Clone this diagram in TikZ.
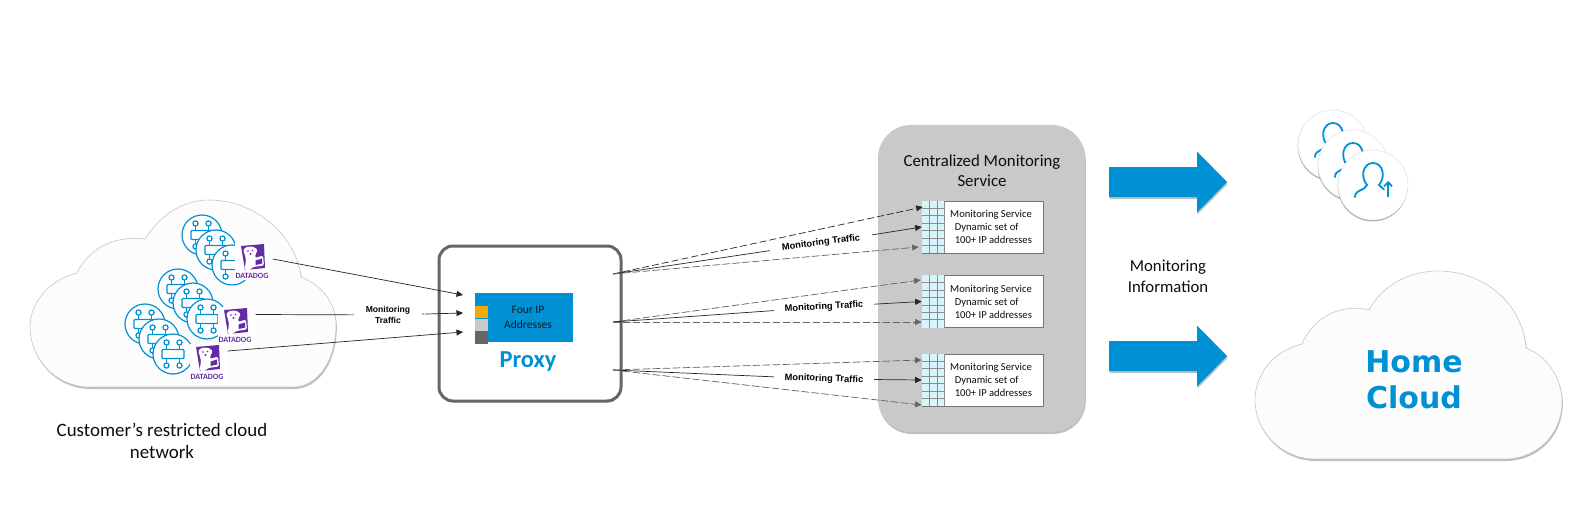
\documentclass[tikz,border=0pt]{standalone}
\usepackage{fontspec}
\setmainfont{Carlito}
\newfontfamily\arialfont{Liberation Sans}
\newfontfamily\dejafont{DejaVu Sans}
\usetikzlibrary{arrows.meta,shadows,calc}
\tikzset{every node/.append style={align=center}}
\definecolor{cloudblue}{RGB}{0, 144, 212}
\definecolor{dogpurple}{RGB}{99, 44, 166}
\definecolor{panelgrey}{RGB}{201, 201, 201}
\definecolor{gridcyan}{RGB}{216, 244, 251}
\definecolor{slategrey}{RGB}{102, 102, 102}
\definecolor{chipamber}{RGB}{242, 170, 0}

\begin{document}
\begin{tikzpicture}[
    x=1pt, y=-1pt,
    softshadow/.style={drop shadow={opacity=.5, shadow xshift=.8pt, shadow yshift=-2pt}},
    cloudbody/.style={fill=white!99!black, draw=black!22, line width=.6pt, softshadow},
    plaintext/.style={font=\fontsize{16.8}{20}\selectfont, text=black!95, inner sep=0pt},
    trafficlabel/.style={font=\arialfont\bfseries\fontsize{8.6}{11.5}\selectfont, inner sep=0pt, minimum height=10pt},
    slopedlabel/.style={trafficlabel, font=\arialfont\bfseries\fontsize{9.3}{11.5}\selectfont},
    proxybox/.style={draw=slategrey, line width=3pt, fill=white, rounded corners=14pt, minimum width=182pt, minimum height=155pt, drop shadow={opacity=.2, shadow xshift=.8pt, shadow yshift=-1.5pt}},
    ipbox/.style={fill=cloudblue, minimum width=98pt, minimum height=49pt, inner sep=0pt},
    ipchip/.style={minimum width=13pt, minimum height=12pt, inner sep=0pt},
    panel/.style={fill=panelgrey, rounded corners=33pt, minimum width=207pt, minimum height=307pt, softshadow},
    svcbox/.style={draw=black!55, line width=.7pt, fill=white, minimum width=121pt, minimum height=52pt, inner sep=0pt},
    svctext/.style={font=\fontsize{10.6}{13}\selectfont, align=left, inner sep=0pt, anchor=west, text=black!95},
    logobox/.style={fill=white, minimum width=38pt, minimum height=37pt, inner sep=0pt},
    dogtext/.style={font=\bfseries\fontsize{8}{8}\selectfont, text=dogpurple, inner sep=0pt},
    solidlink/.style={line width=.7pt, draw=black!85},
    arrow/.style={solidlink, -{Stealth[length=6.5pt,width=6pt,inset=0pt]}},
    darkdash/.style={arrow, dashed, dash pattern=on 7pt off 3pt, draw=black!85},
    greydash/.style={arrow, dashed, dash pattern=on 7pt off 3pt, draw=slategrey, fill=slategrey},
    servericon/.pic={
        \draw[cloudblue, line width=1.2pt, fill=white] (0,0) circle (20);
        \draw[cloudblue, line width=1.2pt, rounded corners=1pt] (-11,-4.5) rectangle (11,4.5);
        \foreach \sx in {-6.5,6.5} {
            \draw[cloudblue, line width=1.2pt] (\sx,-4.5) -- (\sx,-9) (\sx,4.5) -- (\sx,9);
            \draw[cloudblue, line width=1.2pt] (\sx,-11.5) circle (2.6) (\sx,11.5) circle (2.6);
        }
    },
    doglogo/.pic={
        \fill[dogpurple] (-11,-11) -- (12,-13) -- (13,11) -- (-7,13) -- cycle;
        \fill[white, rounded corners=1.5pt] (-9,-7) -- (-6,-10) -- (1,-10.5) -- (6,-7) -- (3.5,-3) -- (3,1) -- (11,-1.5) -- (12,8.5) -- (1,10) -- (-3,13.5) -- (-7.5,12.5) -- (-6,4) -- (-7,-2) -- cycle;
        \fill[dogpurple] (3.5,3.5) -- (10,1.5) -- (10.3,6.5) -- (3.5,8) -- cycle;
        \fill[dogpurple] (-4,-6) circle (.9) (0.5,-6.5) circle (.9) (-1.5,-3) circle (1.1);
    },
    usercoin/.pic={
        \fill[white, draw=black!15, line width=.4pt, drop shadow={opacity=.6, shadow xshift=-.3pt, shadow yshift=-1.5pt}] (0,0) circle (35);
        \draw[cloudblue, line width=1.8pt, line cap=round] (-18,12) .. controls (-18,4) and (-8,6) .. (-6,0) .. controls (-13,-8) and (-10,-22) .. (0,-22) .. controls (10,-22) and (13,-8) .. (6,0) -- (11,4.5);
    },
    bigarrow/.pic={
        \fill[cloudblue, drop shadow={opacity=.5, shadow xshift=.5pt, shadow yshift=-2pt}] (0,-15) -- (88,-15) -- (88,-30.5) -- (118,0) -- (88,30.5) -- (88,15) -- (0,15) -- cycle;
    }
]
    \useasboundingbox[fill=white] (0,0) rectangle (1586,524);

    % Customer cloud
    \path[cloudbody] (90,387) .. controls (55,387) and (30,358) .. (30,327)
        .. controls (30,300) and (52,279) .. (77,273)
        .. controls (88,250) and (112,235) .. (145,239)
        .. controls (160,215) and (183,200) .. (209,200)
        .. controls (255,200) and (296,235) .. (301,277)
        .. controls (322,285) and (336,303) .. (336,325)
        .. controls (336,360) and (318,387) .. (293,387) -- cycle;

    % Server stacks with their agents
    \foreach \px/\py in {202/235,216/250,232/265,178/289,193/303,207/319,145/324,159/339,173/354}
        \pic at (\px,\py) {servericon};
    \foreach \nm/\px/\py in {A/253.5/261.5,B/236.5/325.5,C/208.5/362.5} {
        \node[logobox] (dog\nm) at (\px,\py) {};
        \pic at ($(dog\nm)+(-1.5,-4.5)$) {doglogo};
        \node[dogtext] (dogtext\nm) at ($(dog\nm)+(-1.5,14.5)$) {DATADOG};
    }
    \node[plaintext, font=\fontsize{18.9}{22.5}\selectfont] (custlabel) at (162,441) {Customer's restricted cloud\\network};

    % Proxy
    \node[proxybox] (proxy) at (530,323.5) {};
    \node[ipbox] (iprange) at (524,317.5) {};
    \node[ipchip, fill=chipamber, anchor=north west] (chipA) at (475,306) {};
    \node[ipchip, fill=panelgrey, below=0pt] (chipB) at (chipA.south) {};
    \node[ipchip, fill=slategrey, below=0pt, minimum height=13pt] (chipC) at (chipB.south) {};
    \node[font=\fontsize{11.5}{14.5}\selectfont, text=black!90, inner sep=0pt] (iptext) at (528,317.5) {Four IP\\Addresses};
    \node[font=\bfseries\fontsize{24.4}{28}\selectfont, text=cloudblue, inner sep=0pt] (proxylabel) at (528,361.5) {Proxy};

    % Centralized service
    \node[panel] (panel) at (981.5,278.5) {};
    \node[plaintext] (paneltitle) at (982,171) {Centralized Monitoring\\Service};
    \foreach \nm/\py in {A/227,B/301.5,C/380} {
        \node[svcbox] (svc\nm) at (982.5,\py) {};
        \fill[gridcyan] (svc\nm.north west) rectangle ($(svc\nm.south west)+(23,0)$);
        \foreach \k in {1,2,3}
            \draw[black!45, line width=.5pt] ($(svc\nm.north west)+(\k*7.67,0)$) -- ($(svc\nm.south west)+(\k*7.67,0)$);
        \foreach \k in {1,...,6}
            \draw[black!45, line width=.5pt] ($(svc\nm.north west)+(0,\k*7.43)$) -- ($(svc\nm.north west)+(23,\k*7.43)$);
        \node[svctext] (svctext\nm) at (950,\py) {Monitoring Service\\\hspace*{4.6pt}Dynamic set of\\\hspace*{4.6pt}100+ IP addresses};
    }

    % Big arrows and the users
    \pic at (1109,182) {bigarrow};
    \pic at (1109,356) {bigarrow};
    \node[plaintext, font=\fontsize{16.7}{21}\selectfont] (infolabel) at (1168,276) {Monitoring\\Information};
    \pic at (1333,145) {usercoin};
    \pic at (1353,165) {usercoin};
    \pic at (1373,185) {usercoin};
    \coordinate (upfoot) at (1388,197);
    \coordinate (uphead) at (1388,181);
    \draw[cloudblue, line width=1.8pt, -{Straight Barb[length=4pt,width=8pt]}] (upfoot) -- (uphead);

    % Home cloud
    \path[cloudbody] (1315,459) .. controls (1282,459) and (1255,432) .. (1255,400)
        .. controls (1255,372) and (1276,350) .. (1302,344)
        .. controls (1311,322) and (1336,302) .. (1369,310)
        .. controls (1382,285) and (1410,271) .. (1438,271)
        .. controls (1485,271) and (1523,305) .. (1526,348)
        .. controls (1547,356) and (1562,378) .. (1562,402)
        .. controls (1562,434) and (1537,459) .. (1505,459) -- cycle;
    \node[font=\dejafont\bfseries\fontsize{30}{36}\selectfont, text=cloudblue, inner sep=0pt] (homelabel) at (1414,380) {Home\\Cloud};

    % Traffic into the proxy
    \coordinate (inA) at (463,295);
    \coordinate (inB) at (463,313);
    \coordinate (inC) at (463,332);
    \node[trafficlabel, minimum width=68pt] (trafIn) at (388,315) {Monitoring\\Traffic};
    \draw[arrow] ($(dogA.east)+(0,-2.5)$) -- (inA);
    \draw[solidlink] ($(dogB.east)+(0,-11)$) -- (trafIn);
    \draw[arrow, dash pattern=on 2pt off 1pt on 100pt] (trafIn) -- (inB);
    \draw[arrow] ($(dogC.east)+(0,-11.5)$) -- (inC);

    % Traffic out of the proxy
    \coordinate (srcA) at (613,274);
    \coordinate (srcB) at (613,322);
    \coordinate (srcC) at (613,370);
    \node[slopedlabel, rotate=7, minimum width=103pt] (trafA) at (821,243) {Monitoring Traffic};
    \node[slopedlabel, rotate=3, minimum width=100pt] (trafB) at (824,307) {Monitoring Traffic};
    \node[slopedlabel, rotate=-2, minimum width=100pt] (trafC) at (824,379) {Monitoring Traffic};

    \draw[darkdash] (srcA) -- ($(svcA.west)+(1,-20)$);
    \draw[solidlink] (srcA) -- (trafA);
    \draw[arrow] (trafA) -- (svcA.west);
    \draw[greydash] (srcA) -- ($(svcA.west)+(-3,20)$);

    \draw[greydash] (srcB) -- ($(svcB.west)+(-1,-21.5)$);
    \draw[solidlink] (srcB) -- (trafB);
    \draw[arrow] (trafB) -- (svcB.west);
    \draw[greydash] (srcB) -- ($(svcB.west)+(0,20.5)$);

    \draw[greydash] (srcC) -- ($(svcC.west)+(0,-20)$);
    \draw[solidlink] (srcC) -- (trafC);
    \draw[arrow] (trafC) -- (svcC.west);
    \draw[greydash] (srcC) -- ($(svcC.west)+(0,25)$);
\end{tikzpicture}
\end{document}
